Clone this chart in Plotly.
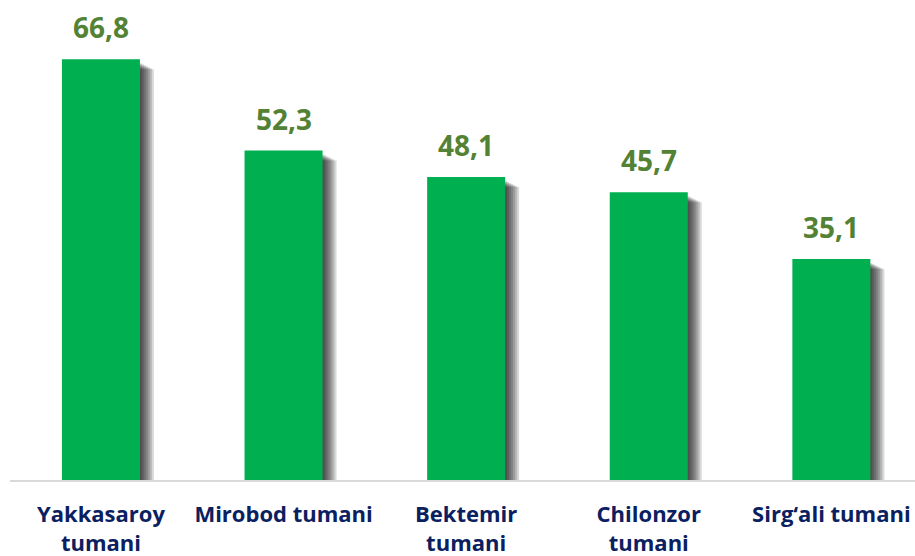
import plotly.graph_objects as go

categories = ["Yakkasaroy<br>tumani", "Mirobod tumani", "Bektemir<br>tumani", "Chilonzor<br>tumani", "Sirg‘ali tumani"]
values = [66.8, 52.3, 48.1, 45.7, 35.1]
value_labels = [f"{v:.1f}".replace(".", ",") for v in values]

W, H = 915, 556
M_L, M_R, M_T, M_B = 10, 0, 0, 76
X_RANGE = [-0.498, 4.458]
Y_RANGE = [0, 76.2]
px_x = (W - M_L - M_R) / (X_RANGE[1] - X_RANGE[0])
px_y = (H - M_T - M_B) / (Y_RANGE[1] - Y_RANGE[0])

bar_w = 78 / px_x
fig = go.Figure()

# soft shadow layers
for k in range(1, 8):
    fig.add_trace(go.Bar(
        x=categories,
        y=[v - (3 + k) / px_y for v in values],
        width=bar_w,
        offset=-bar_w / 2 + 2.0 * k / px_x,
        marker=dict(color="rgba(0,0,0,0.15)", line=dict(width=0)),
        hoverinfo="skip",
        showlegend=False,
    ))

fig.add_trace(go.Bar(
    x=categories,
    y=values,
    width=bar_w,
    offset=-bar_w / 2,
    marker=dict(color="#00B050", line=dict(width=0)),
    showlegend=False,
))

for c, v, t in zip(categories, values, value_labels):
    fig.add_annotation(
        x=c, y=v, text=f"<b>{t}</b>", showarrow=False,
        yanchor="bottom", yshift=11,
        font=dict(family="Open Sans", size=28, color="#548235"),
    )

fig.update_layout(
    width=W, height=H,
    margin=dict(l=M_L, r=M_R, t=M_T, b=M_B, autoexpand=False),
    paper_bgcolor="white", plot_bgcolor="white",
    barmode="overlay",
    font=dict(family="Open Sans"),
    xaxis=dict(
        range=X_RANGE, automargin=False,
        showline=True, linecolor="#D9D9D9", linewidth=2,
        showgrid=False, ticks="",
        tickfont=dict(family="Open Sans", size=22, color="#0A2060", weight="bold"),
        ticklabelstandoff=14,
    ),
    yaxis=dict(range=Y_RANGE, visible=False, showgrid=False, zeroline=False),
)

fig.write_html(
    "out.html",
    config={"displayModeBar": False},
    post_script="document.body.style.margin='0';document.body.style.padding='0';",
)
